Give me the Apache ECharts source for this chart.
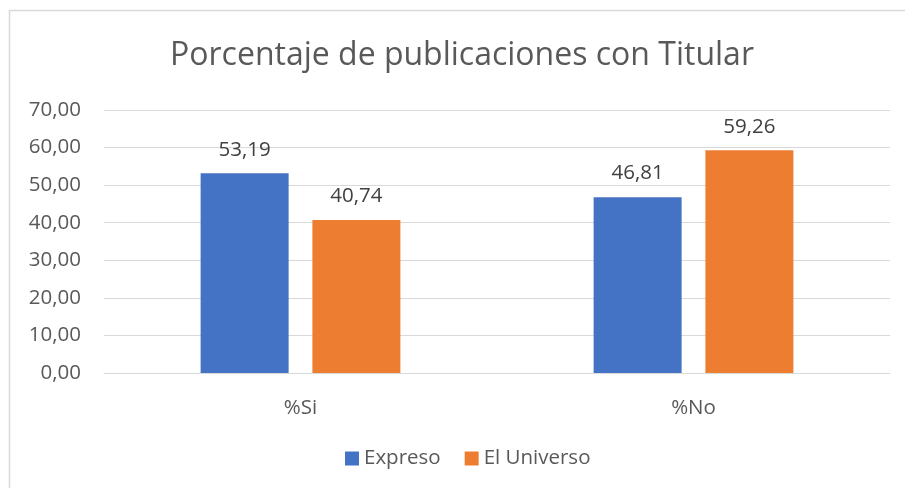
<!DOCTYPE html>
<html>
<head>
<meta charset="utf-8">
<script src="https://cdn.jsdelivr.net/npm/echarts@6/dist/echarts.min.js"></script>
<style>
  html, body { margin: 0; padding: 0; background: #fff; }
  #chart { width: 905px; height: 488px; }
</style>
</head>
<body>
<div id="chart"></div>
<script>
var categories = ['%Si', '%No'];
var expreso = [53.19, 46.81];
var elUniverso = [40.74, 59.26];
var yTicks = [0, 70, 10];   // min, max, interval

var chart = echarts.init(document.getElementById('chart'));

function fmt(v) {
    return v.toFixed(2).replace('.', ',');
}

var option = {
    backgroundColor: '#fff',
    textStyle: { fontFamily: 'Open Sans' },
    title: {
        text: 'Porcentaje de publicaciones con Titular',
        left: 165,
        top: 35,
        textStyle: { fontSize: 32, fontWeight: 'normal', color: '#595959', fontFamily: 'Open Sans' }
    },
    legend: {
        data: ['Expreso', 'El Universo'],
        bottom: 14,
        left: 340,
        itemWidth: 14,
        itemHeight: 14,
        itemGap: 24,
        icon: 'rect',
        textStyle: { fontSize: 20.5, color: '#595959' }
    },
    grid: { left: 104, right: 15, top: 110, bottom: 115 },
    xAxis: {
        type: 'category',
        data: categories,
        axisLine: { lineStyle: { color: '#d9d9d9', width: 1 } },
        axisTick: { show: false },
        axisLabel: { fontSize: 20.5, color: '#595959', margin: 25 }
    },
    yAxis: {
        type: 'value',
        min: yTicks[0],
        max: yTicks[1],
        interval: yTicks[2],
        axisLine: { show: false },
        axisTick: { show: false },
        axisLabel: { fontSize: 20.5, color: '#595959', margin: 23, formatter: fmt },
        splitLine: { lineStyle: { color: '#d9d9d9', width: 1 } }
    },
    series: [
        {
            name: 'Expreso',
            type: 'bar',
            data: expreso,
            barWidth: 88,
            barGap: '27%',
            itemStyle: { color: '#4472c4' },
            label: { show: true, position: 'top', distance: 13, fontSize: 20.5, color: '#404040', formatter: function (p) { return fmt(p.value); } }
        },
        {
            name: 'El Universo',
            type: 'bar',
            data: elUniverso,
            barWidth: 88,
            itemStyle: { color: '#ed7d31' },
            label: { show: true, position: 'top', distance: 13, fontSize: 20.5, color: '#404040', formatter: function (p) { return fmt(p.value); } }
        }
    ],
    graphic: [{
        type: 'rect',
        shape: { x: 9.5, y: 10.5, width: 905, height: 490 },
        style: { fill: 'none', stroke: '#d9d9d9', lineWidth: 1.5 },
        silent: true
    }]
};

chart.setOption(option);
</script>
</body>
</html>
